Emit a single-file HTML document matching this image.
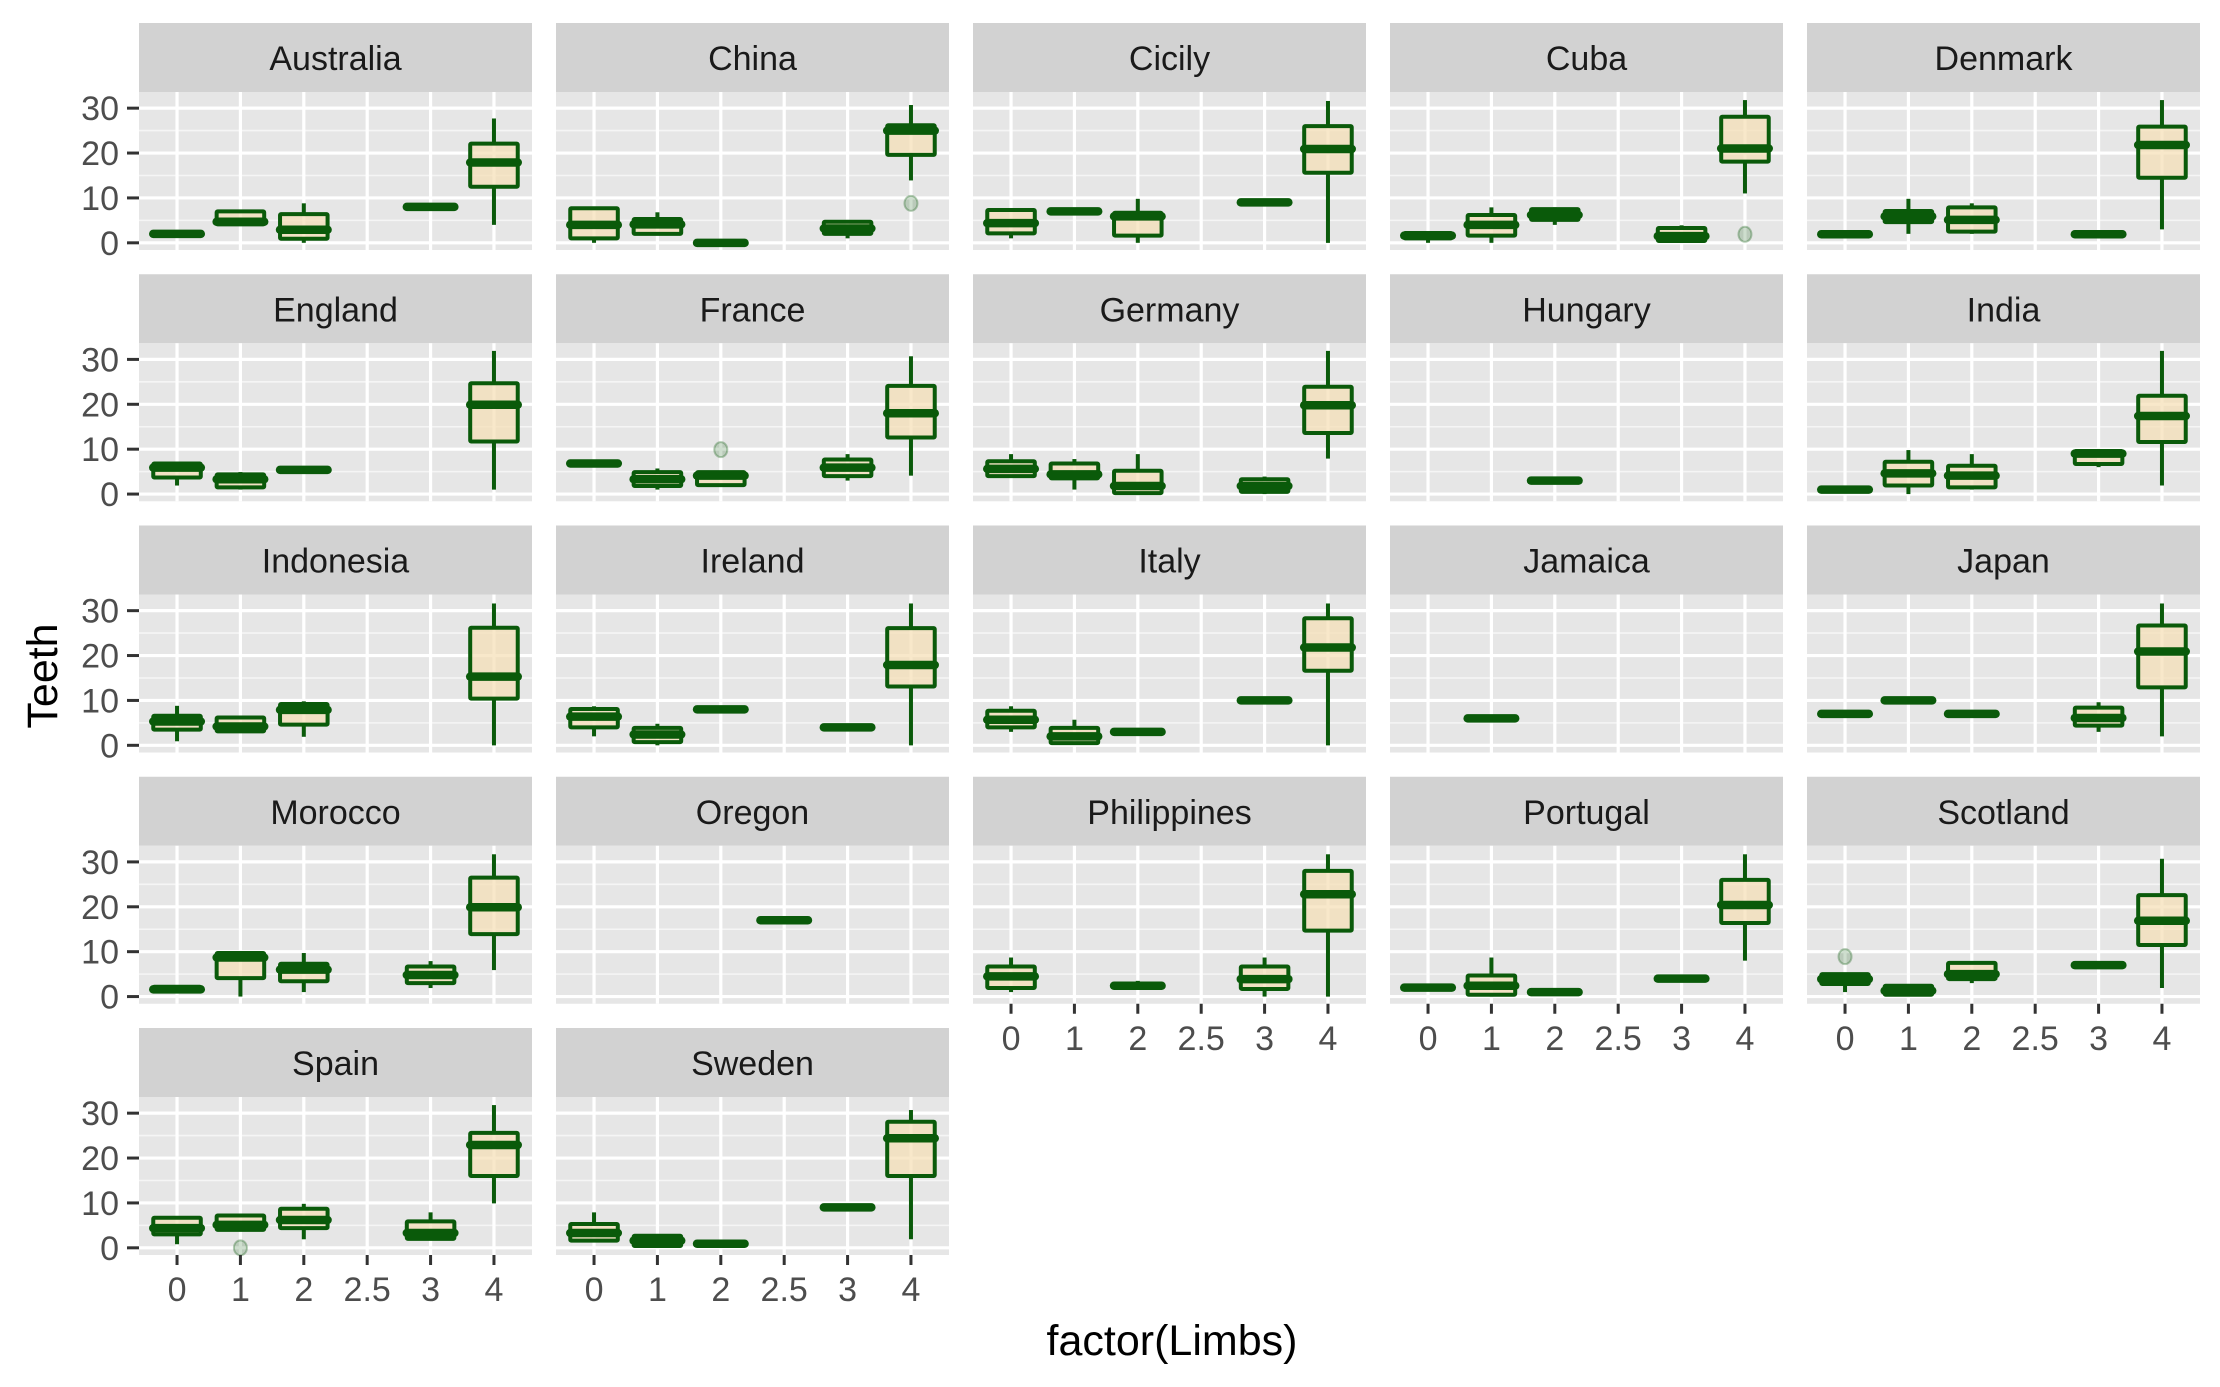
<!DOCTYPE html>
<html><head><meta charset="utf-8"><style>
html,body{margin:0;padding:0;background:#fff;}
svg{display:block;font-family:"Liberation Sans",Arial,sans-serif;}
</style></head><body>
<svg id="chart" width="2220" height="1387" viewBox="0 0 2220 1387" xmlns="http://www.w3.org/2000/svg">
<text x="0" y="0" transform="translate(57,676) rotate(-90)" text-anchor="middle" font-size="43" fill="#000">Teeth</text>
<text x="1172" y="1355" text-anchor="middle" font-size="43" fill="#000">factor(Limbs)</text>
</svg>
<script>
const categories = ["0","1","2","2.5","3","4"];
const countries = ["Australia","China","Cicily","Cuba","Denmark","England","France","Germany","Hungary","India","Indonesia","Ireland","Italy","Jamaica","Japan","Morocco","Oregon","Philippines","Portugal","Scotland","Spain","Sweden"];
const yTicks = [0,10,20,30];
const yTickLabels = ["0","10","20","30"];
const N = null;
const whiskerLow = [
[2,4.1,0,N,8,4],[0,2,0,N,1,13.9],[1,7,0,N,9,0],[0,0,4,N,0,11],[1.9,2,2,N,1.9,3],
[1.9,1,5.4,N,N,1],[6.8,1,2,N,3,4.1],[4,1,0.2,N,0,7.9],[N,N,3,N,N,N],[1,0,1,N,6,1.9],
[0.9,3.1,1.9,N,N,0],[2,0,8,N,4,0],[3,0.5,3,N,10,0],[N,6,N,N,N,N],[7,10,7,N,3,2],
[1.2,0,1,N,1.9,5.9],[N,N,N,17,N,N],[1,N,1.9,N,0,0],[2,0,1,N,4,8],[1,0.4,3,N,7,1.9],
[0.8,4,1.9,N,2,9.9],[1.6,0.2,0.9,N,9,1.9]];
const q1 = [
[2,4.1,0.9,N,8,12.5],[1,2,0,N,2,19.6],[2.1,7,1.6,N,9,15.6],[1,1.6,5.1,N,0.4,18.1],[1.9,4.6,2.5,N,1.9,14.5],
[3.7,1.5,5.4,N,N,11.7],[6.8,1.8,2,N,4,12.6],[4,3.5,0.2,N,0.5,13.6],[N,N,3,N,N,N],[1,1.9,1.5,N,6.7,11.6],
[3.5,3.1,4.6,N,N,10.4],[4,0.7,8,N,4,13.1],[4,0.5,3,N,10,16.6],[N,6,N,N,N,N],[7,10,7,N,4.4,12.9],
[1.2,4.1,3.4,N,3,13.9],[N,N,N,17,N,N],[1.9,N,1.9,N,1.7,14.7],[2,0.4,1,N,4,16.4],[2.8,0.4,3.9,N,7,11.5],
[3,4,4.4,N,2,16],[1.6,0.4,0.9,N,9,16]];
const median = [
[2,4.7,2.9,N,8,17.9],[4,4.1,0,N,3.2,25],[4.4,7,5.9,N,9,20.9],[1.6,4,6.2,N,1.5,21],[1.9,5.9,5.1,N,1.9,21.8],
[5.9,3.3,5.4,N,N,19.9],[6.8,3.3,4.1,N,5.9,18],[5.6,4.4,1.8,N,1.8,19.8],[N,N,3,N,N,N],[1,4.6,4.1,N,9,17.4],
[5.3,4.2,7.9,N,N,15.3],[6.4,2.4,8,N,4,17.9],[5.7,2,3,N,10,21.8],[N,6,N,N,N,N],[7,10,7,N,6.1,20.9],
[1.6,8.7,6,N,4.8,19.9],[N,N,N,17,N,N],[4.5,N,2.4,N,3.9,22.8],[2,2.4,1,N,4,20.4],[3.9,1.3,5,N,7,16.9],
[4.4,5.1,6.2,N,3.3,22.9],[3.3,1.6,0.9,N,9,24.4]];
const q3 = [
[2,7,6.4,N,8,22.1],[7.7,5.3,0,N,4.7,26.2],[7.3,7,6.7,N,9,26],[2.2,6.2,7.5,N,3.3,28.1],[1.9,7.1,7.9,N,1.9,25.9],
[6.8,4.4,5.4,N,N,24.7],[6.8,4.9,4.9,N,7.7,24.1],[7.3,6.8,5.2,N,3.3,23.9],[N,N,3,N,N,N],[1,7.2,6.3,N,9.6,21.9],
[6.6,6.2,9.2,N,N,26.2],[8.1,3.9,8,N,4,26.1],[7.7,3.9,3,N,10,28.3],[N,6,N,N,N,N],[7,10,7,N,8.4,26.7],
[2.2,9.7,7.3,N,6.7,26.5],[N,N,N,17,N,N],[6.7,N,2.9,N,6.7,28],[2,4.7,1,N,4,26],[5,2.4,7.5,N,7,22.6],
[6.7,7.2,8.7,N,5.9,25.6],[5.3,2.7,0.9,N,9,28.1]];
const whiskerHigh = [
[2,7,8.8,N,8,27.7],[7.7,6.8,0,N,4.7,30.7],[7.7,7,9.8,N,9,31.6],[2.2,7.9,7.9,N,3.9,31.8],[1.9,9.8,8.8,N,1.9,31.8],
[6.8,4.9,5.4,N,N,31.9],[6.8,5.7,4.9,N,8.9,30.7],[8.9,7.8,8.9,N,3.9,31.9],[N,N,3,N,N,N],[1,9.8,8.9,N,9.6,31.9],
[8.8,6.2,9.8,N,N,31.6],[8.7,4.8,8,N,4,31.6],[8.7,5.7,3,N,10,31.6],[N,6,N,N,N,N],[7,10,7,N,9.6,31.6],
[2.2,9.7,9.7,N,7.9,31.7],[N,N,N,17,N,N],[8.7,N,3.5,N,8.7,31.7],[2,8.7,1,N,4,31.7],[5,2.7,7.8,N,7,30.7],
[6.7,7.2,9.8,N,7.9,31.8],[7.9,2.7,0.9,N,9,30.7]];
const outlierCountry = [1,3,6,19,20];
const outlierCategory = [5,5,2,0,1];
const outlierValue = [8.8,1.9,9.9,8.9,0];

const svg = document.getElementById('chart');
const NS = 'http://www.w3.org/2000/svg';
const colLeft = [139,556,973,1390,1807];
const PW = 393, STRIP = 69, PH = 158, ROWPITCH = 251.25, TOP0 = 23;
const YMIN = -1.6, YMAX = 33.6;
const DARK = '#0a5a0a';
function mk(tag, attrs, parent){ const e=document.createElementNS(NS,tag); for(const k in attrs) e.setAttribute(k,attrs[k]); (parent||svg).appendChild(e); return e; }
function yScale(v, bottom){ return bottom - (v - YMIN)/(YMAX-YMIN)*PH; }
function xScale(i, left){ return left + (i+0.6)*PW/(categories.length+0.2); }

countries.forEach((name, c) => {
  const col = c % 5, row = Math.floor(c/5);
  const left = colLeft[col];
  const stripTop = TOP0 + row*ROWPITCH;
  const pTop = stripTop + STRIP, pBot = pTop + PH;
  const g = mk('g', {});
  
  
  const strip = mk('rect', {x:left, y:stripTop, width:PW, height:STRIP, fill:'#d2d2d2'}, g);
  
  
  const st = mk('text', {x:left+PW/2, y:stripTop+47, 'text-anchor':'middle', 'font-size':34, fill:'#1a1a1a'}, g);
  st.textContent = name;
  
  
  const bg = mk('rect', {x:left, y:pTop, width:PW, height:PH, fill:'#e6e6e6'}, g);
  
  
  [5,15,25].forEach(v => { mk('line', {x1:left, x2:left+PW, y1:yScale(v,pBot), y2:yScale(v,pBot), stroke:'#f5f5f5', 'stroke-width':1.6}, g); });
  yTicks.forEach(v => { mk('line', {x1:left, x2:left+PW, y1:yScale(v,pBot), y2:yScale(v,pBot), stroke:'#fff', 'stroke-width':3.2}, g); });
  categories.forEach((cat, i) => { mk('line', {x1:xScale(i,left), x2:xScale(i,left), y1:pTop, y2:pBot, stroke:'#fff', 'stroke-width':3.2}, g); });
  categories.forEach((cat, i) => {
    if (median[c][i] === null) return;
    const x = xScale(i,left), hw = 0.75*PW/6.2/2;
    const bg2 = mk('g', {}, g);
    
    
    const yq1 = yScale(q1[c][i],pBot), yq3 = yScale(q3[c][i],pBot);
    mk('line', {x1:x, x2:x, y1:yScale(whiskerHigh[c][i],pBot), y2:yq3, stroke:DARK, 'stroke-width':4}, bg2);
    mk('line', {x1:x, x2:x, y1:yScale(whiskerLow[c][i],pBot), y2:yq1, stroke:DARK, 'stroke-width':4}, bg2);
    mk('rect', {x:x-hw, y:yq3, width:2*hw, height:Math.max(0,yq1-yq3), fill:'rgba(245,222,179,0.7)', stroke:DARK, 'stroke-width':4, rx:1}, bg2);
    const ym = yScale(median[c][i],pBot);
    mk('line', {x1:x-hw, x2:x+hw, y1:ym, y2:ym, stroke:DARK, 'stroke-width':8.5, 'stroke-linecap':'round'}, bg2);
  });
  outlierCountry.forEach((oc, k) => {
    if (oc !== c) return;
    const p = mk('ellipse', {cx:xScale(outlierCategory[k],left), cy:yScale(outlierValue[k],pBot), rx:6.5, ry:7.5, fill:'rgba(10,90,10,0.2)', stroke:'rgba(10,90,10,0.3)', 'stroke-width':2}, g);
    
    
  });
  if (col === 0) {
    yTicks.forEach((v, k) => {
      const y = yScale(v,pBot);
      mk('line', {x1:127, x2:left, y1:y, y2:y, stroke:'#333', 'stroke-width':3}, g);
      const t = mk('text', {x:119, y:y+12, 'text-anchor':'end', 'font-size':34, fill:'#4d4d4d'}, g);
      t.textContent = yTickLabels[k];
      
      
    });
  }
  const isBottom = (row === 4) || (row === 3 && col >= 2);
  if (isBottom) {
    categories.forEach((cat, i) => {
      const x = xScale(i,left);
      mk('line', {x1:x, x2:x, y1:pBot, y2:pBot+10, stroke:'#333', 'stroke-width':3}, g);
      const t = mk('text', {x:x, y:pBot+46, 'text-anchor':'middle', 'font-size':34, fill:'#4d4d4d'}, g);
      t.textContent = cat;
      
      
    });
  }
});
</script>
</body></html>
